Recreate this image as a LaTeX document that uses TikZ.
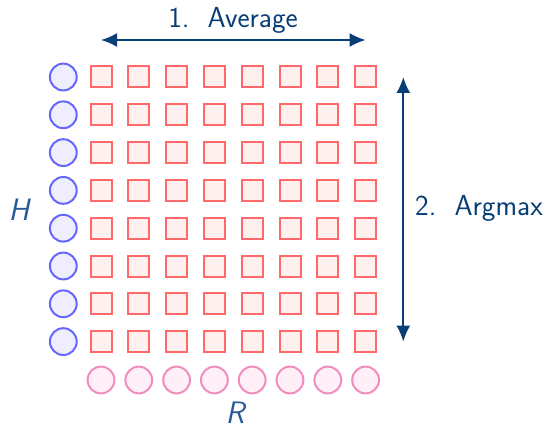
\documentclass[tikz,border=0pt]{standalone}
\usetikzlibrary{arrows.meta}
\definecolor{arrowblue}{RGB}{8,62,118}
\definecolor{axblue}{RGB}{40,90,150}
\definecolor{sqdraw}{RGB}{255,105,105}
\definecolor{sqfill}{RGB}{255,240,240}
\definecolor{hdraw}{RGB}{102,102,255}
\definecolor{hfill}{RGB}{238,238,255}
\definecolor{rdraw}{RGB}{240,140,190}
\definecolor{rfill}{RGB}{255,240,247}
\tikzset{
  cell/.style={draw=sqdraw, fill=sqfill, line width=2pt, minimum size=21pt, inner sep=0pt, outer sep=0pt},
  hcirc/.style={circle, draw=hdraw, fill=hfill, line width=2pt, minimum size=26.8pt, inner sep=0pt},
  rcirc/.style={circle, draw=rdraw, fill=rfill, line width=2pt, minimum size=26.8pt, inner sep=0pt},
  dimarrow/.style={draw=arrowblue, line width=2pt, {Latex[length=16pt,width=14pt]}-{Latex[length=16pt,width=14pt]}},
  lbl/.style={text=arrowblue, font=\sffamily\fontsize{29}{33}\selectfont, inner sep=0pt},
  axlbl/.style={text=axblue, font=\sffamily\itshape\fontsize{31}{35}\selectfont, inner sep=0pt}
}
\begin{document}
\begin{tikzpicture}[x=1pt,y=-1pt]
\useasboundingbox (0,0) rectangle (547,428);
\foreach \i in {1,...,8}{
  \pgfmathsetmacro{\yy}{77+37.8*(\i-1)}
  \node[hcirc] (h-\i) at (63.3,\yy) {};
  \foreach \j in {1,...,8}{
    \pgfmathsetmacro{\xx}{101+37.8*(\j-1)}
    \node[cell] (s-\i-\j) at (\xx,\yy) {};
  }
}
\foreach \j in {1,...,8}{
  \pgfmathsetmacro{\xx}{101+37.8*(\j-1)}
  \node[rcirc] (r-\j) at (\xx,380) {};
}
\coordinate (al) at (s-1-1.center |- 0,40);
\coordinate (ar) at (s-1-8.center |- 0,40);
\draw[dimarrow] (al) -- (ar);
\coordinate (at) at (403.3,77);
\coordinate (ab) at (403.3,341.6);
\draw[dimarrow] (at) -- (ab);
\node[lbl] (avg) at (233,20) {1.\ \ Average};
\node[lbl, anchor=west] (amx) at (415,208) {2.\ \ Argmax};
\node[axlbl] (H) at (19,210) {H};
\node[axlbl, anchor=south] (R) at (235,424) {R};
\end{tikzpicture}
\end{document}
